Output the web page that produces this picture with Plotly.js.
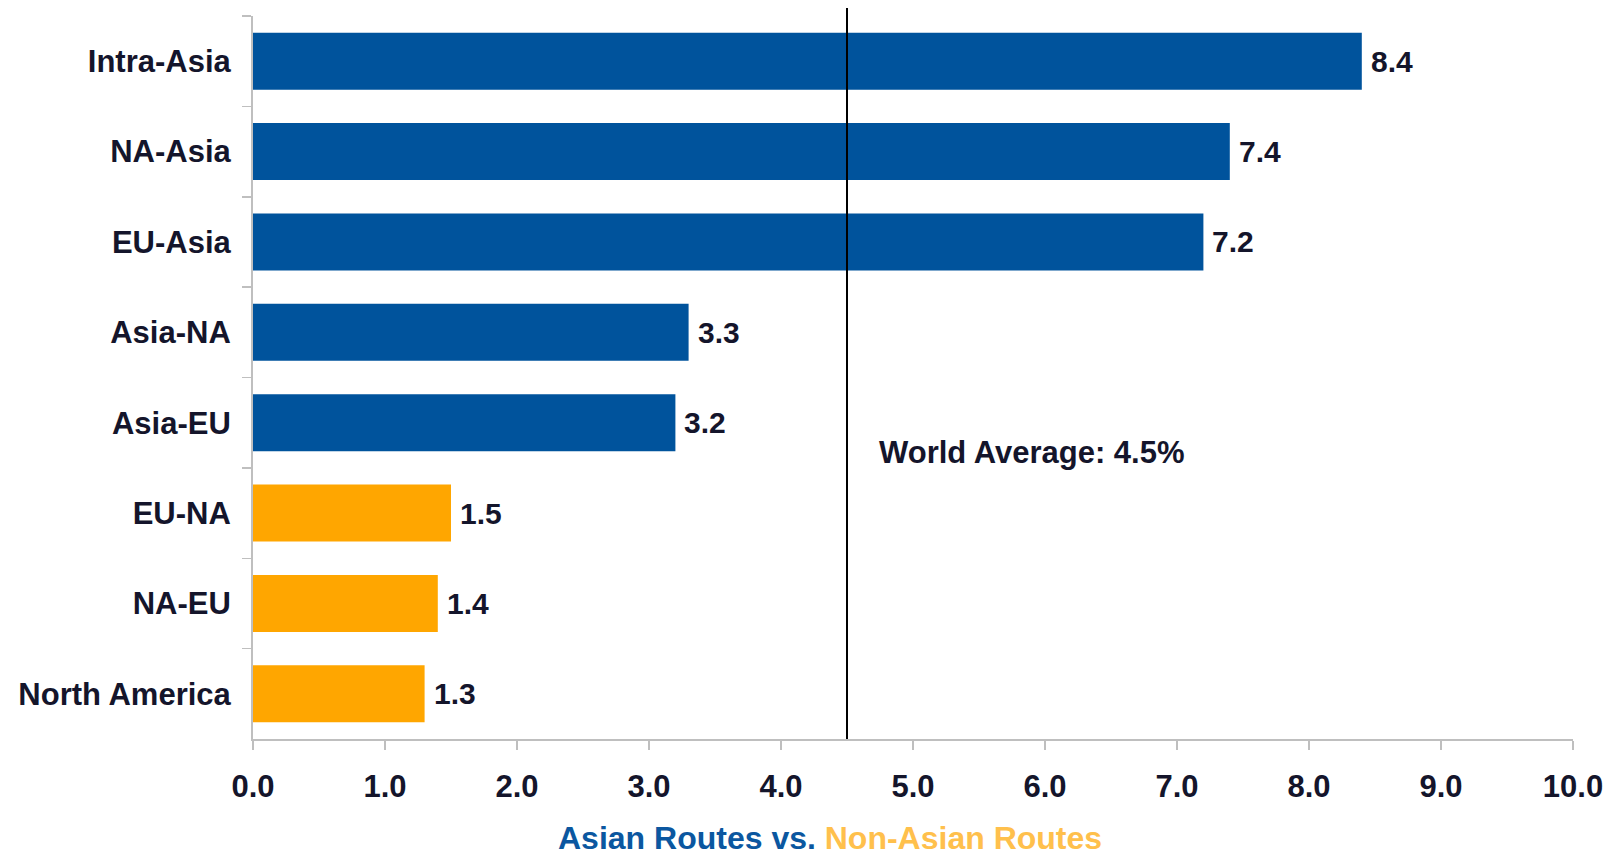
<!DOCTYPE html>
<html>
<head>
<meta charset="utf-8">
<script src="https://cdn.plot.ly/plotly-3.0.1.min.js"></script>
<style>html,body{margin:0;padding:0;background:#fff;}#chart{width:1617px;height:855px;}</style>
</head>
<body>
<div id="chart"></div>
<script>
// Data
const routes = ["Intra-Asia", "NA-Asia", "EU-Asia", "Asia-NA", "Asia-EU", "EU-NA", "NA-EU", "North America"];
const growth = [8.4, 7.4, 7.2, 3.3, 3.2, 1.5, 1.4, 1.3];
const isAsian = [true, true, true, true, true, false, false, false];
const worldAverage = 4.5;
const xTickVals = [0, 1, 2, 3, 4, 5, 6, 7, 8, 9, 10];

const BLUE = "#00539C";
const ORANGE = "#FFA600";
const TEXT = "#14152B";
const FONT = "Liberation Sans, Arial, sans-serif";

const barColors = isAsian.map(a => a ? BLUE : ORANGE);

const trace = {
  type: "bar",
  orientation: "h",
  x: growth,
  y: routes,
  marker: {color: barColors, line: {width: 0}},
  hoverinfo: "x+y"
};

const valueAnnotations = growth.map((v, i) => ({
  x: v, y: routes[i], xref: "x", yref: "y",
  text: v.toFixed(1), showarrow: false,
  xanchor: "left", yanchor: "middle", xshift: 7, yshift: 0,
  font: {family: FONT, size: 30, color: TEXT, weight: "bold"}
}));

const layout = {
  width: 1617, height: 855,
  margin: {l: 253, r: 44, t: 16, b: 116, pad: 0},
  paper_bgcolor: "#ffffff", plot_bgcolor: "#ffffff",
  showlegend: false,
  bargap: 0.37,
  font: {family: FONT, color: TEXT},
  xaxis: {
    range: [0, 10],
    tickvals: xTickVals,
    ticktext: xTickVals.map(v => v.toFixed(1)),
    showgrid: false, zeroline: false,
    showline: true, linecolor: "#BFBFBF", linewidth: 2,
    ticks: "outside", ticklen: 9, tickwidth: 1.5, tickcolor: "#BFBFBF",
    ticklabelstandoff: 10,
    tickfont: {family: FONT, size: 31, color: TEXT, weight: "bold"},
    fixedrange: true
  },
  yaxis: {
    type: "category",
    autorange: "reversed",
    showgrid: false, zeroline: false,
    showline: true, linecolor: "#BFBFBF", linewidth: 2,
    ticks: "outside", ticklen: 9, tickwidth: 1.5, tickcolor: "#BFBFBF",
    tickson: "boundaries",
    ticklabelstandoff: 14,
    tickfont: {family: FONT, size: 31, color: TEXT, weight: "bold"},
    fixedrange: true
  },
  shapes: [{
    type: "line", xref: "x", yref: "paper",
    x0: worldAverage, x1: worldAverage, y0: 0, y1: 1.011,
    line: {color: "#000000", width: 2}
  }],
  annotations: valueAnnotations.concat([
    {
      x: worldAverage, y: 0.396, xref: "x", yref: "paper",
      text: "World Average: " + worldAverage.toFixed(1) + "%",
      showarrow: false, xanchor: "left", yanchor: "middle", xshift: 30,
      font: {family: FONT, size: 31, color: TEXT, weight: "bold"}
    },
    {
      x: 0.437, y: -0.137, xref: "paper", yref: "paper",
      text: "<span style='color:#0B57A0'>Asian Routes vs. </span><span style='color:#FFC04C'>Non-Asian Routes</span>",
      showarrow: false, xanchor: "center", yanchor: "middle",
      font: {family: FONT, size: 32, weight: "bold"}
    }
  ])
};

Plotly.newPlot("chart", [trace], layout, {displayModeBar: false, staticPlot: true});
</script>
</body>
</html>
